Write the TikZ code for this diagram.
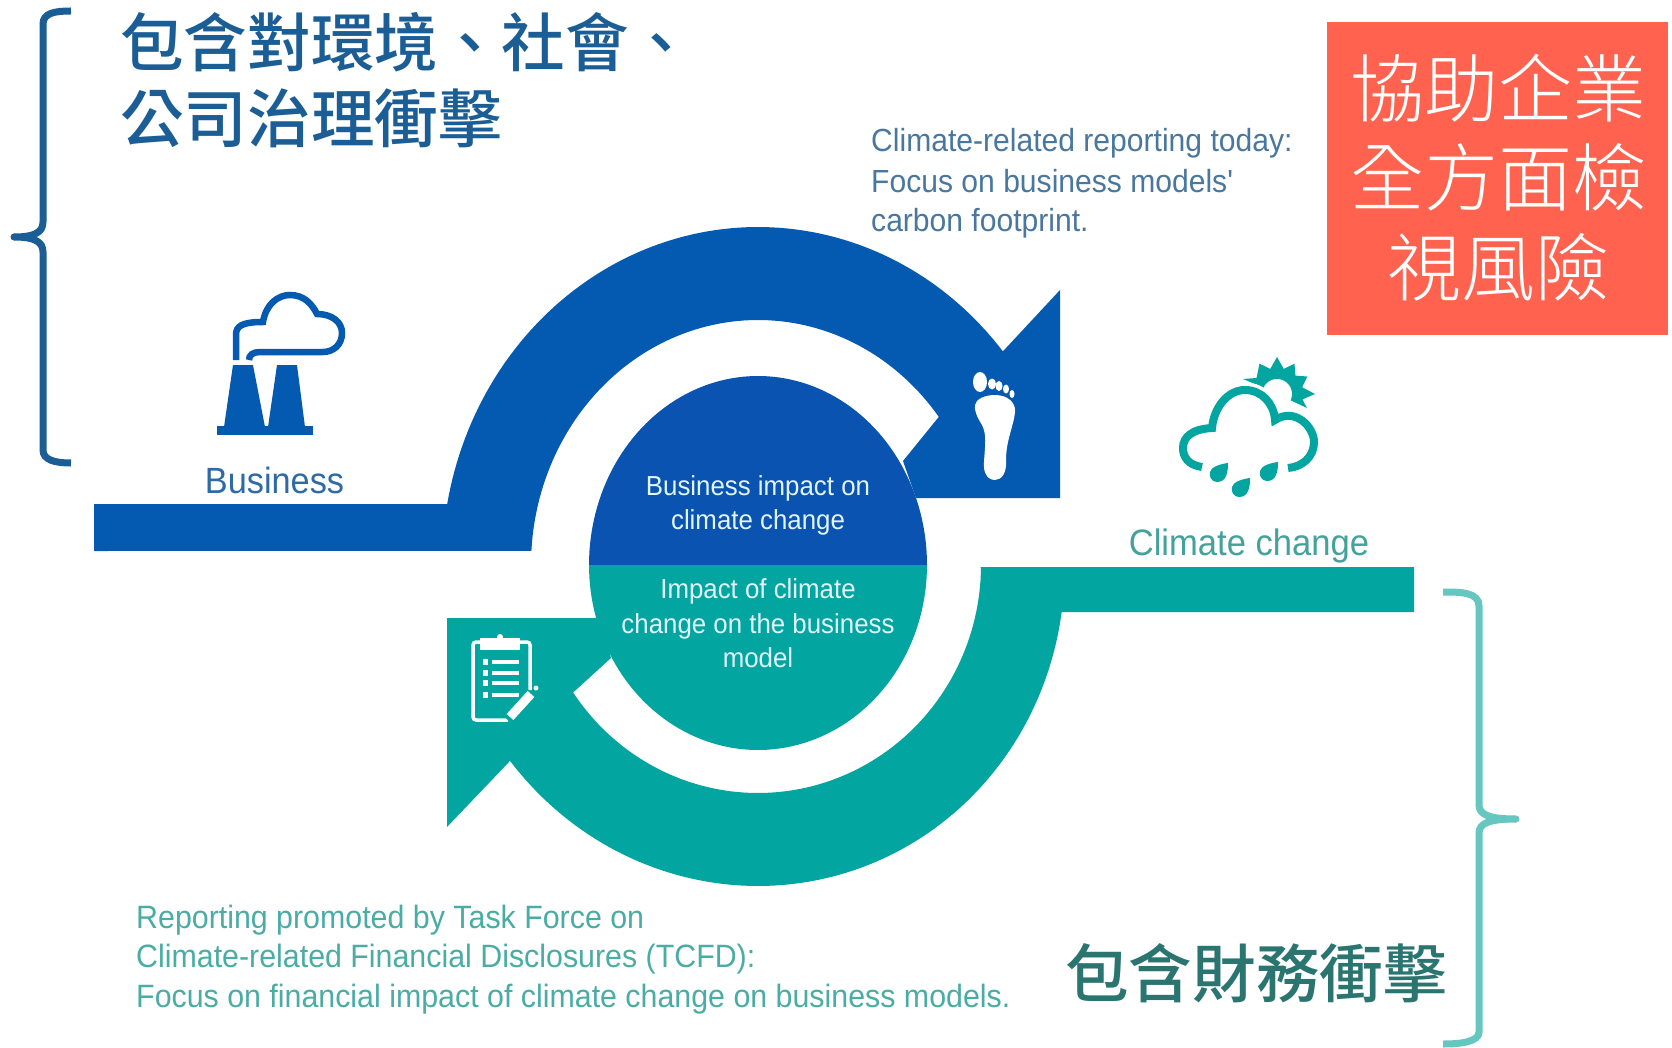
\documentclass[tikz,border=0pt]{standalone}
\usepackage{fontspec}
\newfontfamily\lat{Liberation Sans}[FakeStretch=0.94]
\newfontfamily\cjkm{Noto Sans CJK TC Medium}
\newfontfamily\cjkl{Noto Sans CJK TC Light}
\definecolor{bandblue}{HTML}{045AB0}
\definecolor{discblue}{HTML}{0A53B0}
\definecolor{bandteal}{HTML}{03A5A0}
\definecolor{titleblue}{HTML}{1B5E96}
\definecolor{titleteal}{HTML}{2A7570}
\definecolor{bracet}{HTML}{66C6C0}
\definecolor{boxred}{HTML}{FF634F}
\definecolor{txtblue}{HTML}{4A779E}
\definecolor{txtteal}{HTML}{4AADA4}
\tikzset{
  lbl/.style={inner sep=0pt,font=\lat},
  head/.style={inner sep=0pt,anchor=west,font=\cjkm\fontsize{63.6}{63.6}\selectfont},
  redtxt/.style={inner sep=0pt,text=white,font=\cjkl\fontsize{74}{74}\selectfont},
  toplbl/.style={lbl,anchor=west,text=txtblue,font=\lat\fontsize{32}{32}\selectfont},
  botlbl/.style={lbl,anchor=west,text=txtteal,font=\lat\fontsize{32.3}{32.3}\selectfont},
  disctxt/.style={lbl,text=white!88!cyan,font=\lat\fontsize{27.5}{27.5}\selectfont},
  brc/.style={line width=7pt}
}
\begin{document}
\begin{tikzpicture}[x=1pt,y=-1pt]
\useasboundingbox (0,0) rectangle (1672,1048);
\fill[white] (0,0) rectangle (1672,1048);

% blue band with arrow head
\fill[bandblue] (94,504) -- (447,504)
  -- plot[domain=190.4:320.8,samples=90] ({758+316*cos(\x)},{565+338*sin(\x)})
  -- (1060,290) -- (1060,498) -- (916,498) -- (903,461)
  -- plot[domain=322.8:183.3,samples=90] ({758+227*cos(\x)},{565+245*sin(\x)})
  -- (94,551) -- cycle;
% teal band with arrow head
\fill[bandteal] (979,567) -- (1414,567) -- (1414,612) -- (1061,612)
  -- plot[domain=8.4:142.5,samples=90] ({758+(307+6*(\x-8.4)/134)*cos(\x)},{565+321*sin(\x)})
  -- (509,762) -- (447,827) -- (447,618) -- (600,618) -- (611,658)
  -- plot[domain=146:0.5,samples=90] ({758+223*cos(\x)},{565+228*sin(\x)})
  -- cycle;
% centre disc
\fill[discblue] plot[domain=180:360,samples=90] ({758+169*cos(\x)},{565+189*sin(\x)}) -- cycle;
\fill[bandteal] plot[domain=0:180,samples=90] ({758+169*cos(\x)},{565+185*sin(\x)}) -- cycle;

\node[disctxt] (d1) at (758,488) {Business impact on};
\node[disctxt] (d2) at (758,522) {climate change};
\node[disctxt] (d3) at (758,591) {Impact of climate};
\node[disctxt] (d4) at (758,626) {change on the business};
\node[disctxt] (d5) at (758,658) {model};

% factory icon
\fill[bandblue] (217,426) rectangle (313,435);
\fill[bandblue] (233,365) -- (253,365) -- (265,427) -- (224,427) -- cycle;
\fill[bandblue] (277,365) -- (297,365) -- (305,427) -- (268,427) -- cycle;
\draw[bandblue,line width=6.5pt] (236,360) -- (236,335) .. controls (236,326) and (242,322) .. (263,322)
  .. controls (266,304) and (278,295) .. (290,295) .. controls (304,295) and (312,304) .. (317,314)
  .. controls (332,314) and (342,322) .. (342,333) .. controls (342,345) and (333,352) .. (323,352)
  -- (260,352) .. controls (253,352) and (249,355) .. (249,360);

% weather icon
\begin{scope}[yshift=-2pt]
\fill[bandteal] (1243,377) \foreach \a/\r in {-142/26,-120/35,-105/26,-90/37,-75/26,-60/35,-45/26,-30/35,-15/26,0/38,12/26,25/33} { -- ({1277+\r*cos(\a)},{392+\r*sin(\a)}) }
  -- plot[domain=25:-155,samples=30] ({1277+15*cos(\x)},{392+15*sin(\x)}) -- cycle;
\draw[white,line width=15pt] (1212,426) .. controls (1214,405) and (1228,388) .. (1245,388)
  .. controls (1262,388) and (1274,402) .. (1275,418) .. controls (1295,405) and (1314,425) .. (1314,440);
\draw[bandteal,line width=8pt] (1202,465) .. controls (1188,463) and (1183,455) .. (1183,446)
  .. controls (1183,435) and (1192,427) .. (1212,426) .. controls (1214,405) and (1228,388) .. (1245,388)
  .. controls (1262,388) and (1274,402) .. (1275,418) .. controls (1295,405) and (1314,425) .. (1314,440)
  .. controls (1314,455) and (1302,465) .. (1288,466);
\foreach \cx/\cy in {1218/472,1240/487,1268/471} {
  \fill[bandteal,shift={(\cx,\cy)}] (10,-11) .. controls (10,-3) and (9,8) .. (-1,8)
    .. controls (-7,8) and (-9,2) .. (-8,-2) .. controls (-7,-7) and (2,-10) .. cycle;
}
\end{scope}

% foot icon
\fill[white] (995,395) .. controls (1008,395) and (1016,403) .. (1015,412)
  .. controls (1014,425) and (1006,440) .. (1006,460) .. controls (1007,472) and (1002,480) .. (995,480)
  .. controls (987,480) and (983,472) .. (984,462) .. controls (985,445) and (987,435) .. (982,425)
  .. controls (977,417) and (974,410) .. (975,405) .. controls (976,399) and (985,395) .. (995,395) -- cycle;
\fill[white] (980,382) ellipse [x radius=7,y radius=10];
\fill[white] (992,384) ellipse [x radius=4,y radius=5.5];
\fill[white] (999,386) ellipse [x radius=3.5,y radius=5];
\fill[white] (1006,389) ellipse [x radius=3,y radius=4.5];
\fill[white] (1012,394) ellipse [x radius=2.5,y radius=4];

% clipboard icon
\draw[white,line width=3.5pt,rounded corners=3pt] (508,720) -- (473,720) -- (473,642) -- (530,642) -- (530,690);
\fill[white] (480,638) rectangle (520,650);
\fill[white] (500,637) circle [radius=3];
\foreach \ly in {662,673,683,695} {
  \fill[white] (483,\ly-3) rectangle (488,\ly+3);
  \draw[white,line width=3.5pt] (492,\ly) -- (519,\ly);
}
\draw[bandteal,line width=15pt] (508,720) -- (532,693);
\draw[white,line width=9pt] (510,717) -- (531,694);
\fill[white] (536,688) circle [radius=2.5];

% labels
\node[lbl,text=txtblue!60!bandblue,font=\lat\fontsize{36.5}{36.5}\selectfont] (business) at (274.5,480) {Business};
\node[lbl,text=txtteal!80!titleteal,font=\lat\fontsize{36.8}{36.8}\selectfont] (climate) at (1249,546) {Climate change};

\node[toplbl] (t1) at (871,143) {Climate-related reporting today:};
\node[toplbl] (t2) at (871,181) {Focus on business models'};
\node[toplbl] (t3) at (871,223) {carbon footprint.};

\node[botlbl] (b1) at (136,920) {Reporting promoted by Task Force on};
\node[botlbl] (b2) at (136,959) {Climate-related Financial Disclosures (TCFD):};
\node[botlbl] (b3) at (136,999) {Focus on financial impact of climate change on business models.};

% headings
\node[head,text=titleblue] (h1) at (120,42) {包含對環境、社會、};
\node[head,text=titleblue] (h2) at (120,118) {公司治理衝擊};
\node[head,text=titleteal] (h3) at (1065,973) {包含財務衝擊};

% braces
\draw[titleblue,brc] (71,11) .. controls (55,11) and (43,13) .. (43,24) -- (43,222)
  .. controls (43,232) and (35,237) .. (14,237) .. controls (35,237) and (43,242) .. (43,252)
  -- (43,450) .. controls (43,460) and (55,463) .. (71,463);
\fill[titleblue] (14,237) circle [radius=3.5];
\draw[bracet,brc] (1443,592) .. controls (1460,592) and (1479,592) .. (1479,606) -- (1479,805)
  .. controls (1479,815) and (1490,819) .. (1516,819) .. controls (1490,819) and (1479,823) .. (1479,833)
  -- (1479,1032) .. controls (1479,1042) and (1460,1044) .. (1443,1044);
\fill[bracet] (1516,819) circle [radius=3.5];

% red box
\node[draw=none,fill=boxred,inner sep=0pt,minimum width=341pt,minimum height=313pt] (redbox) at (1497.5,178.5) {};
\node[redtxt] (r1) at (1498,88) {協助企業};
\node[redtxt] (r2) at (1498,177) {全方面檢};
\node[redtxt] (r3) at (1498,267) {視風險};
\end{tikzpicture}
\end{document}
